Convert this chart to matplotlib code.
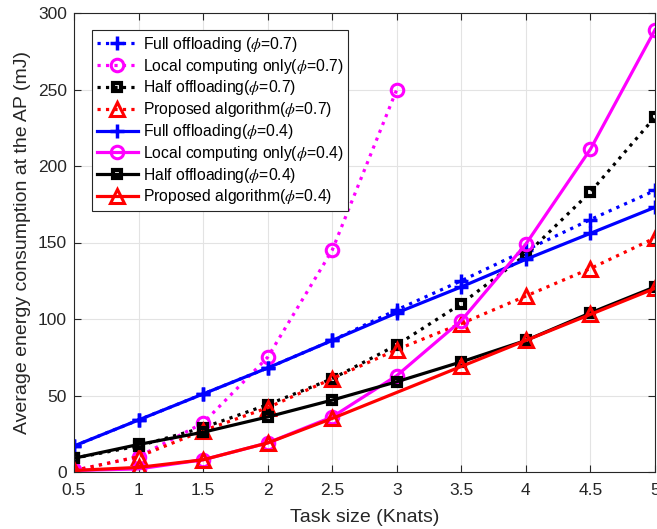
import numpy as np
import matplotlib.pyplot as plt

plt.rcParams['font.family'] = ['Liberation Sans', 'DejaVu Sans']
plt.rcParams['mathtext.fontset'] = 'stix'

task_size = [0.5, 1, 1.5, 2, 2.5, 3, 3.5, 4, 4.5, 5]
xtick_labels = ['0.5', '1', '1.5', '2', '2.5', '3', '3.5', '4', '4.5', '5']

# phi = 0.7
full_07 = [17, 34, 51, 68, 86, 106, 125, 145, 165, 184]
local_07 = [1, 10, 32, 75, 145, 250]
half_07 = [9, 17, 29, 44, 61, 83, 110, 142, 183, 232]
prop_07 = [1, 10, 27, 42, 61, 80, 97, 115, 133, 153]

# phi = 0.4
full_04 = [17, 34, 51, 68, 86, 104, 121, 139, 156, 173]
local_04 = [1, 2, 8, 19, 36, 63, 99, 149, 211, 289]
half_04 = [9, 18, 26, 36, 47, 59, 72, 86, 104, 121]
prop_04 = [1, 3, 8, 19, 35, 52, 69, 86, 103, 120]

fig = plt.figure(figsize=(6.57, 5.29), dpi=100)
ax = fig.add_axes([74/657, 57/529, 581/657, 459/529])

lw = 2.3
plus = dict(marker='+', ms=10, mew=2.5)
circ = dict(marker='o', ms=9, mew=2.2, mfc='none')
sq = dict(marker='s', ms=6, mew=3, mfc='none')
tri = dict(marker='^', ms=10.5, mew=2.2, mfc='none')

ax.plot(task_size, full_07, ':', color='blue', lw=lw, **plus,
        label=r'Full offloading ($\phi$=0.7)')
ax.plot(task_size[:len(local_07)], local_07, ':', color='magenta', lw=lw, **circ,
        label=r'Local computing only($\phi$=0.7)')
ax.plot(task_size, half_07, ':', color='black', lw=lw, **sq,
        label=r'Half offloading($\phi$=0.7)')
ax.plot(task_size, prop_07, ':', color='red', lw=lw, **tri,
        label=r'Proposed algorithm($\phi$=0.7)')
ax.plot(task_size, full_04, '-', color='blue', lw=lw, **plus,
        label=r'Full offloading($\phi$=0.4)')
ax.plot(task_size, local_04, '-', color='magenta', lw=lw, **circ,
        label=r'Local computing only($\phi$=0.4)')
ax.plot(task_size, half_04, '-', color='black', lw=lw, **sq,
        label=r'Half offloading($\phi$=0.4)')
ax.plot(task_size, prop_04, '-', color='red', lw=lw, **tri,
        markevery=[0, 1, 2, 3, 4, 6, 7, 8, 9],
        label=r'Proposed algorithm($\phi$=0.4)')

ax.set_xlim(0.5, 5)
ax.set_ylim(0, 300)
ax.set_xticks(task_size)
ax.set_xticklabels(xtick_labels)
ax.set_yticks(np.arange(0, 301, 50))
ax.tick_params(direction='in', top=True, right=True, labelsize=12.5, colors='#262626',
               length=5, width=0.8)
ax.tick_params(axis='x', pad=8)
ax.tick_params(axis='y', pad=5)
ax.grid(True, color='#e3e3e3', lw=0.8)
ax.set_axisbelow(True)
for s in ax.spines.values():
    s.set_color('#262626')
    s.set_linewidth(0.8)

ax.set_xlabel('Task size (Knats)', fontsize=14, color='#262626', labelpad=8)
ax.set_ylabel('Average energy consumption at the AP (mJ)', fontsize=14, color='#262626',
              labelpad=5)

leg = ax.legend(loc='upper left', bbox_to_anchor=(18/581, 442/459), borderaxespad=0,
                fontsize=11.3, handlelength=2.6, handletextpad=0.35, labelspacing=0.18,
                borderpad=0.3, fancybox=False, framealpha=1, edgecolor='#262626')
leg.get_frame().set_linewidth(0.8)

fig.savefig('out.png', dpi=100, facecolor='white')
